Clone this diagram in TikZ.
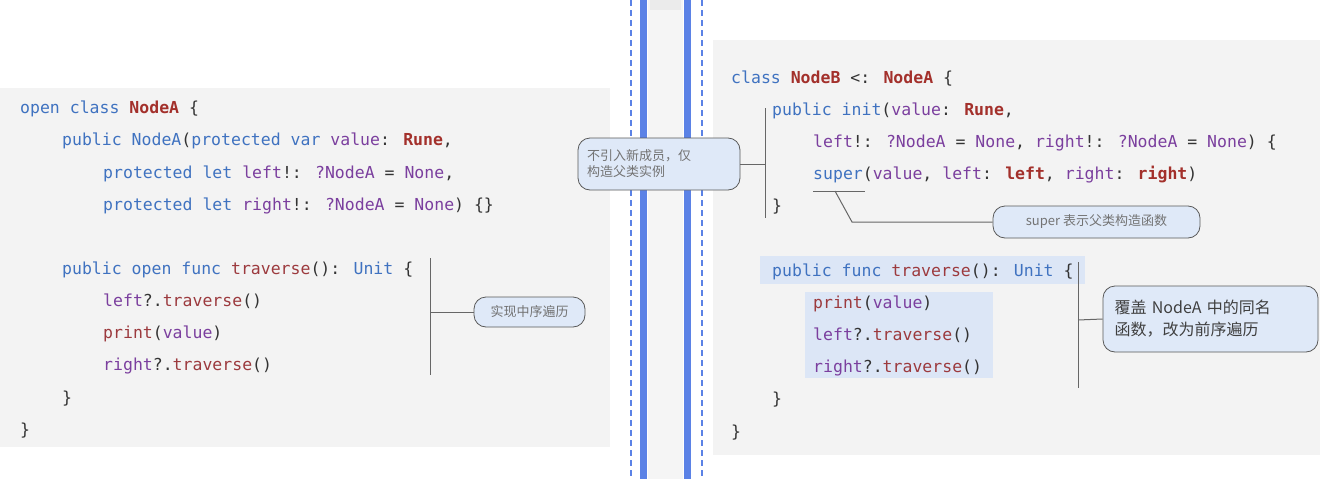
\documentclass[tikz,border=0pt]{standalone}
\usepackage{fontspec}
\setmainfont{Noto Sans CJK SC}
\newfontfamily\codefont{DejaVu Sans Mono}
\begin{document}
\definecolor{kwc}{HTML}{3F72C0}
\definecolor{tyc}{HTML}{A3302B}
\definecolor{idc}{HTML}{7B3F9E}
\definecolor{fnc}{HTML}{9C3A3E}
\definecolor{pc}{HTML}{333333}
\definecolor{panel}{HTML}{F3F3F3}
\definecolor{cfill}{HTML}{DFE9F8}
\definecolor{hl}{HTML}{DCE6F6}
\definecolor{divb}{HTML}{5B82E6}
\newcommand\kw[1]{\textcolor{kwc}{#1}}
\newcommand\ty[1]{\textcolor{tyc}{\bfseries #1}}
\newcommand\vr[1]{\textcolor{idc}{#1}}
\newcommand\fc[1]{\textcolor{fnc}{#1}}
\begin{tikzpicture}[x=1pt,y=-1pt,
  code/.style={anchor=base west,inner sep=0pt,font=\codefont\fontsize{16.5}{18}\selectfont,text=pc},
  callout/.style={draw=black!65,fill=cfill,rounded corners=12pt,line width=0.8pt,text=black!55,font=\fontsize{13}{18}\selectfont,align=left,inner sep=0pt},
  lead/.style={draw=black!60,line width=1pt}]
\useasboundingbox (0,0) rectangle (1331,479);
\fill[white] (0,0) rectangle (1331,479);
% panels
\fill[panel] (0,88) rectangle (610,447);
\fill[panel] (713,40) rectangle (1320,455);
% divider
\fill[black!4] (648,0) rectangle (683,479);
\fill[black!8] (650,0) rectangle (681,10);
\fill[divb] (640,0) rectangle (647,479);
\fill[divb] (684,0) rectangle (691,479);
\draw[divb,line width=2pt,dash pattern=on 6pt off 4pt] (631,0) -- (631,479);
\draw[divb,line width=2pt,dash pattern=on 6pt off 4pt] (702,0) -- (702,479);
% left code
\node[code] (l1) at (20,113) {\kw{open class} \ty{NodeA} \{};
\node[code] (l2) at (62,145) {\kw{public NodeA}(\kw{protected var} \vr{value}: \ty{Rune},};
\node[code] (l3) at (103,178) {\kw{protected let} \vr{left}!: \vr{?NodeA} = \vr{None},};
\node[code] (l4) at (103,210) {\kw{protected let} \vr{right}!: \vr{?NodeA} = \vr{None}) \{\}};
\node[code] (l5) at (62,274) {\kw{public open func} \fc{traverse}(): \kw{Unit} \{};
\node[code] (l6) at (103,306) {\vr{left}?.\fc{traverse}()};
\node[code] (l7) at (103,338) {\fc{print}(\vr{value})};
\node[code] (l8) at (103,370) {\vr{right}?.\fc{traverse}()};
\node[code] (l9) at (62,403) {\}};
\node[code] (l10) at (20,435) {\}};
% right highlights
\fill[hl] (760,256) rectangle (1085,284);
\fill[hl] (805,292) rectangle (993,378);
% right code
\node[code] (r1) at (731,83) {\kw{class} \ty{NodeB} <: \ty{NodeA} \{};
\node[code] (r2) at (772,115) {\kw{public init}(\vr{value}: \ty{Rune},};
\node[code] (r3) at (813,147) {\vr{left}!: \vr{?NodeA} = \vr{None}, \vr{right}!: \vr{?NodeA} = \vr{None}) \{};
\node[code] (r4) at (813,179) {\kw{super}(\vr{value}, \vr{left}: \ty{left}, \vr{right}: \ty{right})};
\node[code] (r5) at (772,211) {\}};
\node[code] (r6) at (772,276) {\kw{public func} \fc{traverse}(): \kw{Unit} \{};
\node[code] (r7) at (813,308) {\fc{print}(\vr{value})};
\node[code] (r8) at (813,340) {\vr{left}?.\fc{traverse}()};
\node[code] (r9) at (813,372) {\vr{right}?.\fc{traverse}()};
\node[code] (r10) at (772,404) {\}};
\node[code] (r11) at (731,437) {\}};
% callouts
\node[callout,minimum width=111pt,minimum height=30pt,align=center] (c1) at (529.5,312) {实现中序遍历};
\node[callout,minimum width=162pt,minimum height=52pt,text width=144pt] (c2) at (659,164) {不引入新成员，仅\\[-2pt]构造父类实例};
\node[callout,minimum width=207pt,minimum height=32pt,align=center] (c3) at (1096.5,222) {super 表示父类构造函数};
\node[callout,minimum width=215pt,minimum height=66pt,text width=192pt,font=\fontsize{16}{22}\selectfont,text=black!75] (c4) at (1210.5,319) {覆盖 NodeA 中的同名\\函数，改为前序遍历};
% leads
\coordinate (b1t) at (430,258); \coordinate (b1b) at (430,375);
\draw[lead] (b1t) -- (b1b);
\draw[lead] (430,312) -- (c1.west);
\coordinate (b2t) at (765,108); \coordinate (b2b) at (765,218);
\draw[lead] (b2t) -- (b2b);
\draw[lead] (c2.east) -- (765,164);
\coordinate (u1) at (813,191); \coordinate (u2) at (865,191);
\draw[lead] (u1) -- (u2);
\draw[lead] (835,191) -- (852,222) -- (c3.west);
\coordinate (b3t) at (1078,262); \coordinate (b3b) at (1078,388);
\draw[lead] (b3t) -- (b3b);
\draw[lead] (1078,320) -- (c4.west);
\end{tikzpicture}
\end{document}
